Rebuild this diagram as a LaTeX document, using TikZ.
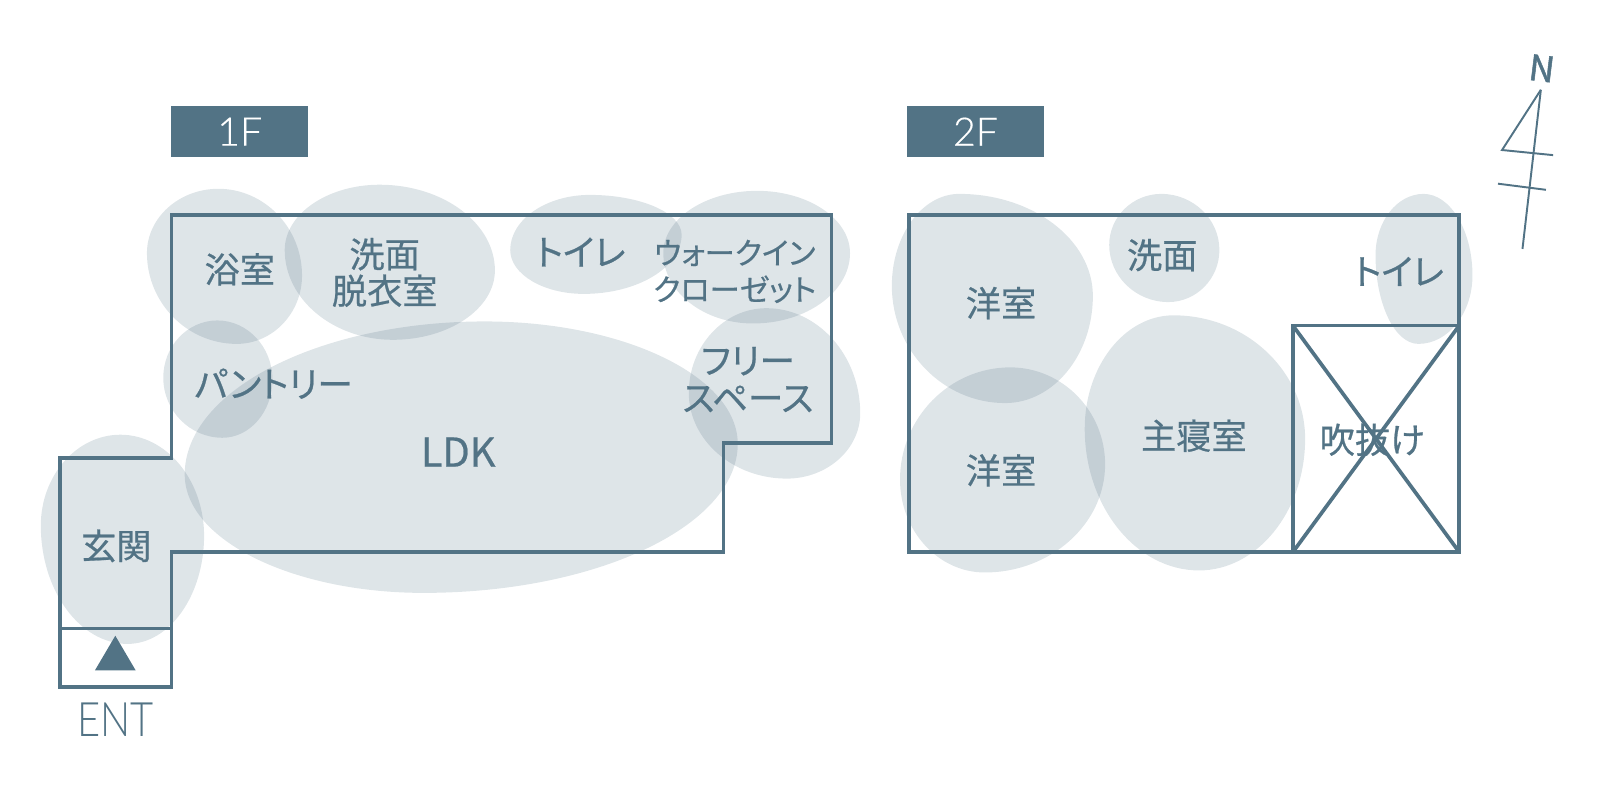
\documentclass[tikz,border=0pt]{standalone}
\usepackage{fontspec}
\setmainfont[FakeBold=0.6]{Noto Sans CJK JP}
\newfontfamily\kanafont[FakeBold=0.6,RawFeature={+palt}]{Noto Sans CJK JP}
\newfontfamily\thinfont[FakeBold=0.3]{Lato Light}
\newfontfamily\entfont[FakeStretch=0.84]{Lato Light}
\newfontfamily\northfont[FakeBold=1.4]{Noto Sans CJK JP}
\definecolor{slate}{RGB}{82,115,133}
\newcommand{\blobat}[8]{
	\fill[blob] (#1,#2) .. controls ({#1+0.55*(#3-#1)},#2) and (#3,{#4-0.55*(#4-#2)}) .. (#3,#4)
		.. controls (#3,{#4+0.55*(#6-#4)}) and ({#5+0.55*(#3-#5)},#6) .. (#5,#6)
		.. controls ({#5-0.55*(#5-#7)},#6) and (#7,{#8+0.55*(#6-#8)}) .. (#7,#8)
		.. controls (#7,{#8-0.55*(#8-#2)}) and ({#1-0.55*(#1-#7)},#2) .. (#1,#2) -- cycle;
}
\tikzset{
	blob/.style={fill=slate,fill opacity=0.19},
	wall/.style={draw=slate,line width=1.05pt,line join=miter},
	north/.style={draw=slate,line width=0.55pt},
	room/.style={text=slate,align=center,inner sep=0pt,font=\fontsize{10}{10.4}\selectfont},
	roomkana/.style={room,font=\kanafont\fontsize{10.1}{10.6}\selectfont},
	roomsmall/.style={room,font=\kanafont\fontsize{8.6}{10.4}\selectfont},
	floortag/.style={fill=slate,text=white,minimum width=1.367cm,minimum height=0.51cm,inner sep=0pt,font=\thinfont\fontsize{11.2}{12}\selectfont}
}
\begin{document}
\begin{tikzpicture}[x=0.0102cm,y=-0.0102cm]
		\useasboundingbox (0,0) rectangle (1568,773.2);

		\blobat{214}{185}{296}{270}{232}{337}{144}{248}
		\blobat{372}{181}{485}{265}{385}{333}{279}{245}
		\blobat{578}{191}{668}{230}{572}{288}{500}{245}
		\blobat{742}{187}{833}{248}{738}{317}{650}{248}
		\blobat{751}{302}{843}{405}{771}{469}{675}{385}
		\blobat{475}{315}{723}{435}{415}{581}{181}{465}
		\blobat{213}{314}{267}{372}{218}{429}{160}{370}
		\blobat{118}{426}{200}{525}{125}{631}{40}{515}

		\blobat{940}{190}{1071}{290}{985}{395}{874}{280}
		\blobat{990}{360}{1083}{455}{965}{561}{882}{470}
		\blobat{1138}{190}{1195}{245}{1145}{296}{1087}{240}
		\blobat{1150}{309}{1279}{430}{1175}{559}{1063}{420}
		\blobat{1395}{190}{1443}{270}{1390}{337}{1348}{250}

		\draw[wall] (168,211) -- (815,211) -- (815,434) -- (709,434) -- (709,541) -- (168,541) -- (168,673) -- (59,673) -- (59,449) -- (168,449) -- cycle;
		\draw[wall] (59,616) -- (168,616);
		\fill[slate] (113,623) -- (133,657) -- (93,657) -- cycle;

		\draw[wall] (891,211) rectangle (1430,541);
		\draw[wall] (1267,541) -- (1267,319) -- (1430,319);
		\draw[wall] (1267,319) -- (1430,541);
		\draw[wall] (1430,319) -- (1267,541);

		\draw[north] (1510,88) -- (1472,147) -- (1522,152);
		\draw[north] (1510,88) -- (1492,244);
		\draw[north] (1468,180) -- (1515,186);
		\node[text=slate,rotate=-7,inner sep=0pt,font=\northfont\fontsize{10}{10}\selectfont] (nmark) at (1511,67) {N};

		\node[floortag] (tagone) at (235,129) {1F};
		\node[floortag] (tagtwo) at (956,129) {2F};

		\node[room] (bath) at (235,264) {浴室};
		\node[room] (wash) at (377,267) {洗面\\脱衣室};
		\node[roomkana] (toilet) at (569,247) {トイレ};
		\node[roomsmall] (closet) at (720,266) {ウォークイン\\クローゼット};
		\node[roomkana] (pantry) at (268,376) {パントリー};
		\node[roomkana] (free) at (733,372) {フリー\\スペース};
		\node[room,font=\fontsize{11.3}{12}\selectfont] (ldk) at (449,443) {LDK};
		\node[room] (entry) at (114,535) {玄関};
		\node[text=slate,inner sep=0pt,font=\entfont\fontsize{13.5}{14}\selectfont] (ent) at (113,705) {ENT};

		\node[room] (westup) at (981,297) {洋室};
		\node[room] (westlow) at (981,461) {洋室};
		\node[room] (washtwo) at (1139,250) {洗面};
		\node[roomkana] (toilettwo) at (1371,266) {トイレ};
		\node[room] (master) at (1170,427) {主寝室};
		\node[room] (void) at (1345,431) {吹抜け};
	\end{tikzpicture}
\end{document}
